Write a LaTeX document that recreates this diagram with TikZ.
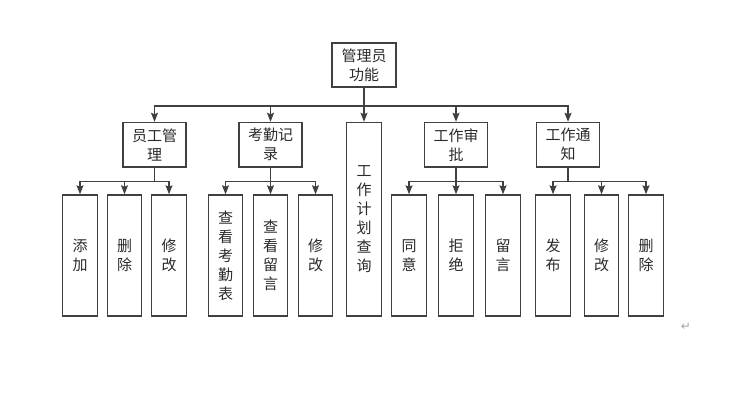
\documentclass[tikz,border=0pt]{standalone}
\usepackage{fontspec}
\newfontfamily\cjk{Noto Sans CJK SC}
\newfontfamily\dejavu{DejaVu Sans}
\usetikzlibrary{arrows.meta}
\definecolor{ln}{HTML}{404040}
\definecolor{tx}{HTML}{2a2a2a}
\tikzset{
  box/.style={draw=ln, line width=1.4pt, inner sep=0pt, align=center,
    text=tx, font=\cjk\fontsize{15}{19}\selectfont},
  midbox/.style={box, minimum width=63pt, minimum height=44.5pt},
  leafbox/.style={box, minimum width=34.5pt, minimum height=121pt},
  arr/.style={draw=ln, line width=1.4pt, -{Stealth[length=9pt,width=7pt,inset=1.5pt]}}
}
\begin{document}
\begin{tikzpicture}[x=1pt,y=-1pt]
\useasboundingbox (0,0) rectangle (733,403);
% root
\node[box, minimum width=64pt, minimum height=44pt] (root) at (364,65) {管理员\\功能};
% level 2
\node[midbox] (emp) at (154.5,144.75) {员工管\\理};
\node[midbox] (att) at (270.5,144.75) {考勤记\\录};
\node[box, minimum width=35pt, minimum height=193.5pt] (plan) at (364,219.25) {工\\作\\计\\划\\查\\询};
\node[midbox] (appr) at (456,144.75) {工作审\\批};
\node[midbox] (noti) at (568,144.75) {工作通\\知};
% leaves
\node[leafbox] (a1) at (80,255.5) {添\\加};
\node[leafbox] (a2) at (124.5,255.5) {删\\除};
\node[leafbox] (a3) at (169,255.5) {修\\改};
\node[leafbox] (b1) at (225.5,255.5) {查\\看\\考\\勤\\表};
\node[leafbox] (b2) at (270.5,255.5) {查\\看\\留\\言};
\node[leafbox] (b3) at (315.5,255.5) {修\\改};
\node[leafbox] (c1) at (409,255.5) {同\\意};
\node[leafbox] (c2) at (456,255.5) {拒\\绝};
\node[leafbox] (c3) at (503,255.5) {留\\言};
\node[leafbox] (d1) at (553,255.5) {发\\布};
\node[leafbox] (d2) at (601.5,255.5) {修\\改};
\node[leafbox] (d3) at (646,255.5) {删\\除};
% connectors root
\foreach \c in {emp,att,appr,noti}
  \draw[arr] (root.south) -- ++(0,18.5) -| (\c.north);
\draw[arr] (root.south) -- (plan.north);
% connectors level 2
\foreach \p/\c in {emp/a1,emp/a2,emp/a3,att/b1,att/b2,att/b3,appr/c1,appr/c2,appr/c3,noti/d1,noti/d2,noti/d3}
  \draw[arr] (\p.south) -- ++(0,14) -| (\c.north);
% paragraph mark
\node[text=black!35, font=\dejavu\fontsize{12}{12}\selectfont, inner sep=0pt] (pm) at (686,327) {↵};
\end{tikzpicture}
\end{document}
